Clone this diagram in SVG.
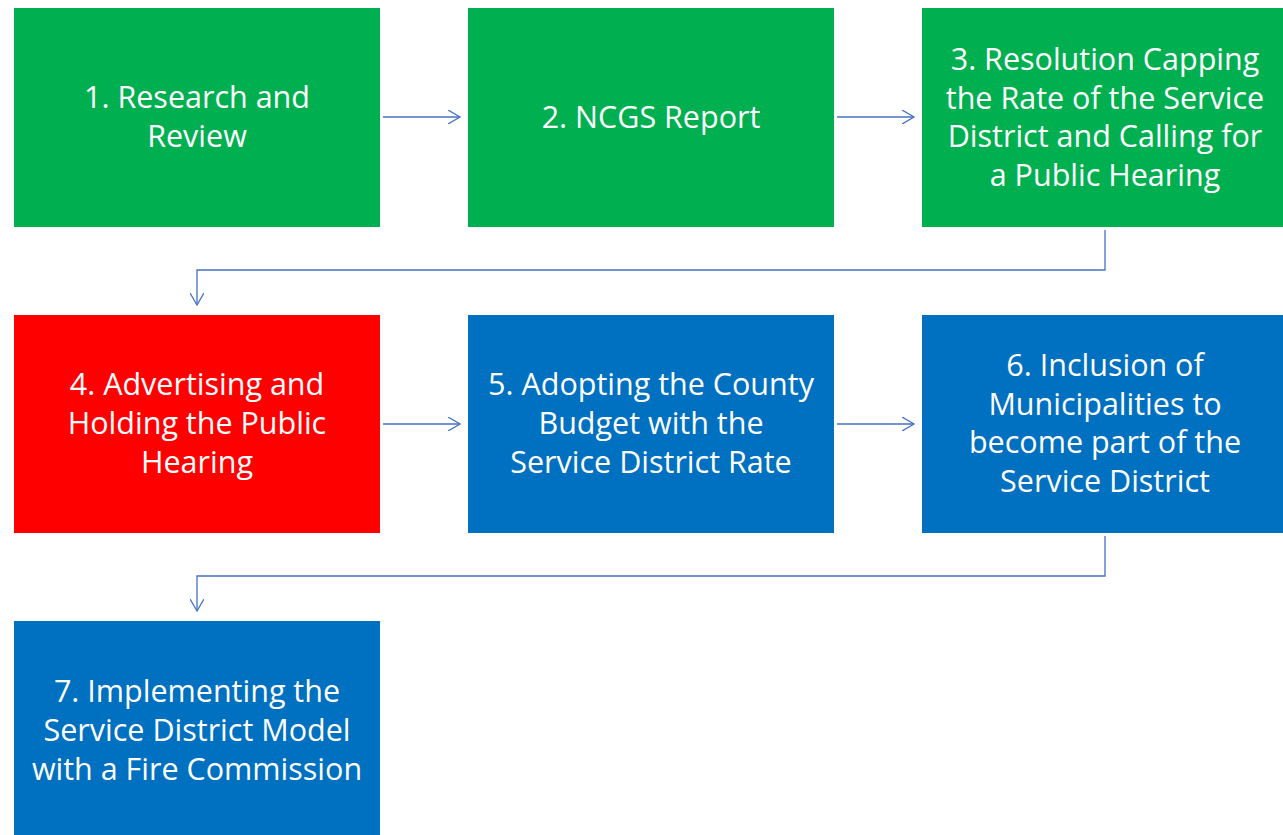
<svg xmlns="http://www.w3.org/2000/svg" width="1283" height="835" viewBox="0 0 1283 835">
<style>
.g{fill:#00B050}.r{fill:#FF0000}.b{fill:#0070C0}
text{font-family:"Open Sans","Noto Sans",sans-serif;font-size:30.5px;fill:#fff;text-anchor:middle}
.c{fill:none;stroke:#4472C4;stroke-width:1.3}
</style>
<defs>
<marker id="a" markerWidth="14" markerHeight="14" refX="12" refY="7" orient="auto" markerUnits="userSpaceOnUse">
<path d="M0,0 L12,7 L0,14" fill="none" stroke="#4472C4" stroke-width="1.3"/>
</marker>
</defs>
<rect width="1283" height="835" fill="#fff"/>
<g id="n1"><rect class="g" x="14" y="8" width="366" height="219"/><text x="197" y="108">1. Research and</text><text x="197" y="147">Review</text></g>
<g id="n2"><rect class="g" x="468" y="8" width="366" height="219"/><text x="651" y="128">2. NCGS Report</text></g>
<g id="n3"><rect class="g" x="922" y="8" width="366" height="219"/><text x="1105" y="70">3. Resolution Capping</text><text x="1105" y="109">the Rate of the Service</text><text x="1105" y="147">District and Calling for</text><text x="1105" y="186">a Public Hearing</text></g>
<g id="n4"><rect class="r" x="14" y="315" width="366" height="218"/><text x="197" y="395">4. Advertising and</text><text x="197" y="434">Holding the Public</text><text x="197" y="473">Hearing</text></g>
<g id="n5"><rect class="b" x="468" y="315" width="366" height="218"/><text x="651" y="395">5. Adopting the County</text><text x="651" y="434">Budget with the</text><text x="651" y="473">Service District Rate</text></g>
<g id="n6"><rect class="b" x="922" y="315" width="366" height="218"/><text x="1105" y="376">6. Inclusion of</text><text x="1105" y="415">Municipalities to</text><text x="1105" y="453">become part of the</text><text x="1105" y="492">Service District</text></g>
<g id="n7"><rect class="b" x="14" y="621" width="366" height="218"/><text x="197" y="702">7. Implementing the</text><text x="197" y="741">Service District Model</text><text x="197" y="780">with a Fire Commission</text></g>
<g id="connectors">
<path class="c" d="M383,117 H460" marker-end="url(#a)"/>
<path class="c" d="M837,117 H914" marker-end="url(#a)"/>
<path class="c" d="M1105,230 V270 H197 V305" marker-end="url(#a)"/>
<path class="c" d="M383,424 H460" marker-end="url(#a)"/>
<path class="c" d="M837,424 H914" marker-end="url(#a)"/>
<path class="c" d="M1105,536 V576 H197 V611" marker-end="url(#a)"/>
</g>
</svg>
